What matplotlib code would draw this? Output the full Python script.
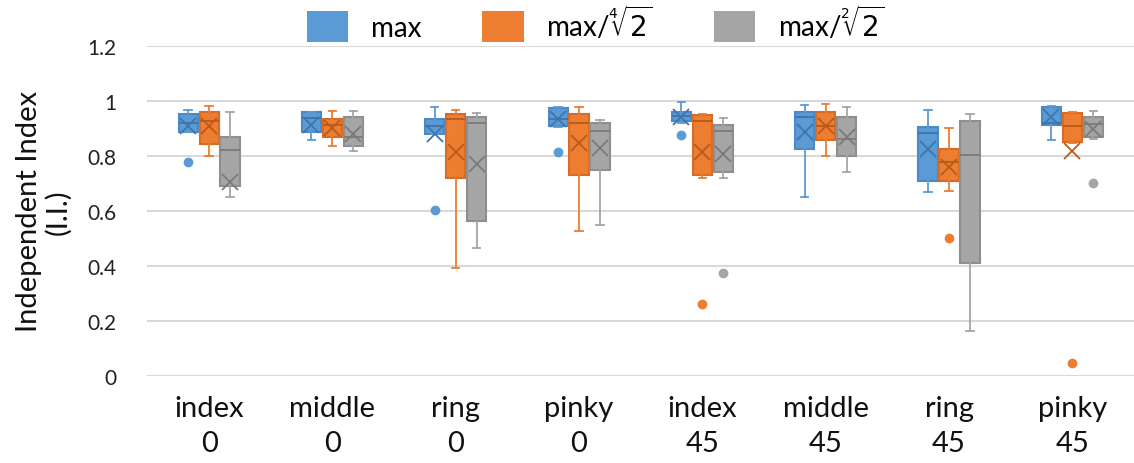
import matplotlib.pyplot as plt
import numpy as np

# categories (finger / angle)
categories = ['index\n0', 'middle\n0', 'ring\n0', 'pinky\n0',
              'index\n45', 'middle\n45', 'ring\n45', 'pinky\n45']
series_names = ['max', r'max/$\sqrt[4]{2}$', r'max/$\sqrt[2]{2}$']

# series "max"
max_whislo = [0.885, 0.858, 0.881, 0.906, 0.921, 0.652, 0.667, 0.857]
max_q1 = [0.887, 0.887, 0.881, 0.907, 0.927, 0.824, 0.707, 0.913]
max_med = [0.921, 0.936, 0.907, 0.935, 0.945, 0.940, 0.883, 0.919]
max_q3 = [0.951, 0.958, 0.933, 0.973, 0.961, 0.961, 0.906, 0.978]
max_whishi = [0.966, 0.958, 0.976, 0.976, 0.995, 0.984, 0.966, 0.980]
max_mean = [0.910, 0.912, 0.879, 0.933, 0.940, 0.885, 0.824, 0.942]
max_fliers = [[0.776], [], [0.604], [0.815], [0.876], [], [], []]

# series "max/4th-root 2"
r4_whislo = [0.800, 0.836, 0.392, 0.527, 0.721, 0.800, 0.673, 0.845]
r4_q1 = [0.843, 0.870, 0.718, 0.731, 0.731, 0.857, 0.707, 0.852]
r4_med = [0.927, 0.912, 0.933, 0.919, 0.927, 0.907, 0.778, 0.907]
r4_q3 = [0.961, 0.933, 0.951, 0.951, 0.948, 0.961, 0.824, 0.955]
r4_whishi = [0.980, 0.964, 0.967, 0.976, 0.951, 0.988, 0.901, 0.961]
r4_mean = [0.909, 0.903, 0.815, 0.845, 0.815, 0.907, 0.758, 0.818]
r4_fliers = [[], [], [], [], [0.261], [], [0.501], [0.045]]

# series "max/sqrt 2"
r2_whislo = [0.652, 0.818, 0.463, 0.549, 0.718, 0.743, 0.164, 0.861]
r2_q1 = [0.691, 0.836, 0.564, 0.749, 0.740, 0.800, 0.409, 0.870]
r2_med = [0.822, 0.869, 0.919, 0.889, 0.889, 0.863, 0.804, 0.915]
r2_q3 = [0.867, 0.943, 0.940, 0.919, 0.912, 0.940, 0.925, 0.943]
r2_whishi = [0.958, 0.964, 0.955, 0.930, 0.936, 0.976, 0.951, 0.964]
r2_mean = [0.703, 0.881, 0.770, 0.830, 0.806, 0.867, None, 0.897]
r2_fliers = [[], [], [], [], [0.373], [], [], [0.700]]

yticks = [0, 0.2, 0.4, 0.6, 0.8, 1, 1.2]
ytick_labels = ['0', '0.2', '0.4', '0.6', '0.8', '1', '1.2']

all_series = [
    (max_whislo, max_q1, max_med, max_q3, max_whishi, max_mean, max_fliers),
    (r4_whislo, r4_q1, r4_med, r4_q3, r4_whishi, r4_mean, r4_fliers),
    (r2_whislo, r2_q1, r2_med, r2_q3, r2_whishi, r2_mean, r2_fliers),
]
fills = ['#5B9BD5', '#ED7D31', '#A5A5A5']
edges = ['#4A8AC8', '#D86C24', '#8E8E8E']
darks = ['#3F74AA', '#B85A1A', '#7A7A7A']

plt.rcParams['font.family'] = ['Lato', 'DejaVu Sans']
plt.rcParams['mathtext.fontset'] = 'dejavusans'

fig = plt.figure(figsize=(11.34, 4.64), dpi=100)
ax = fig.add_axes([0.13, 0.188, 0.87, 0.711])

x = np.arange(len(categories))
offsets = [-0.17, 0.0, 0.17]

for s, (wlo, q1, med, q3, whi, mean, fl) in enumerate(all_series):
    stats = []
    for i in range(len(categories)):
        stats.append(dict(whislo=wlo[i], q1=q1[i], med=med[i], q3=q3[i],
                          whishi=whi[i], fliers=fl[i]))
    ax.bxp(stats, positions=x + offsets[s], widths=0.155, capwidths=0.06,
           patch_artist=True, showfliers=True, manage_ticks=False,
           boxprops=dict(facecolor=fills[s], edgecolor=edges[s], linewidth=1.5),
           whiskerprops=dict(color=fills[s], linewidth=1.3),
           capprops=dict(color=fills[s], linewidth=1.3),
           medianprops=dict(color=darks[s], linewidth=1.3),
           flierprops=dict(marker='o', markerfacecolor=fills[s],
                           markeredgecolor=fills[s], markersize=6))
    mx = [x[i] + offsets[s] for i in range(len(categories)) if mean[i] is not None]
    my = [m for m in mean if m is not None]
    ax.plot(mx, my, linestyle='none', marker='x', markersize=12,
            markeredgewidth=1.3, color=darks[s], zorder=5)
    ax.bar([0], [0], color=fills[s], label=series_names[s])

ax.set_xlim(-0.5, len(categories) - 0.5)
ax.set_ylim(0, 1.2)
ax.set_yticks(yticks)
ax.set_yticklabels(ytick_labels, fontsize=15, color='#222222')
ax.set_xticks(x)
ax.set_xticklabels(categories, fontsize=21, linespacing=1.4, color='#111111')
ax.tick_params(axis='x', length=0, pad=14)
ax.tick_params(axis='y', length=0, pad=22)
ax.grid(axis='y', color='#D9D9D9', linewidth=1.5, zorder=0)
ax.set_axisbelow(True)
for sp in ax.spines.values():
    sp.set_visible(False)

ax.set_ylabel('Independent Index\n(I.I.)', fontsize=21, linespacing=1.1,
              labelpad=12, color='#111111')

fig.legend(loc='upper center', bbox_to_anchor=(0.525, 1.045), ncol=3,
           frameon=False, fontsize=20, handlelength=1.5, handleheight=1.3,
           columnspacing=2.2, handletextpad=0.8)

plt.savefig('out.png', dpi=100)
